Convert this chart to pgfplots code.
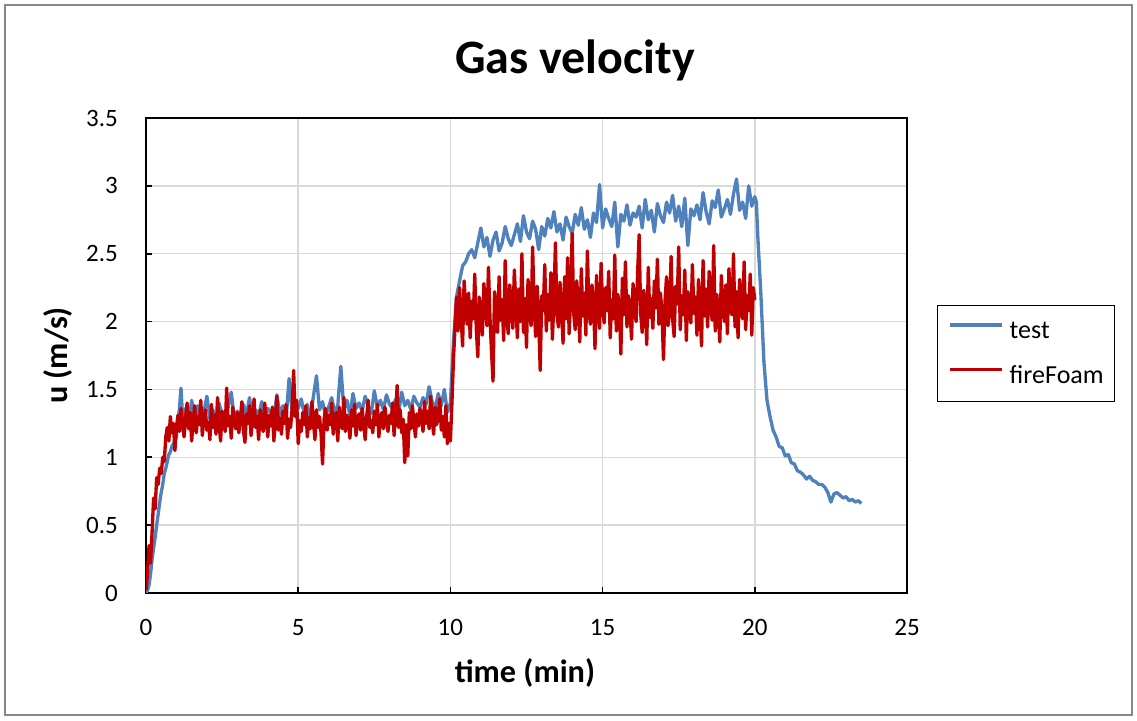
\documentclass[border=0pt]{standalone}
\usepackage{fontspec}
\setmainfont{Carlito}
\usepackage{pgfplots}
\pgfplotsset{compat=1.18}
\definecolor{testblue}{HTML}{4F81BD}
\definecolor{foamred}{HTML}{C00000}
\definecolor{gridgray}{HTML}{D9D9D9}
\definecolor{outergray}{HTML}{878787}
\begin{document}
\begin{tikzpicture}[x=1pt,y=1pt]
\useasboundingbox (0,0) rectangle (852.75,540);
\draw[color=outergray, line width=1.3pt] (3.75,3.75) rectangle (849.25,536.25);
\node[font=\bfseries\fontsize{36}{42}\selectfont, anchor=center] at (431.25,494.5) {Gas velocity};
\begin{axis}[
  at={(109.5pt,95.25pt)}, anchor=south west,
  scale only axis, width=570.75pt, height=356.25pt,
  xmin=0, xmax=25, ymin=0, ymax=3.5,
  xtick={0,5,10,15,20,25}, ytick={0,0.5,1,1.5,2,2.5,3,3.5},
  grid=major, grid style={color=gridgray, line width=1.1pt},
  axis line style={black, line width=1.5pt},
  tick pos=left, tick align=inside,
  major tick length=4.5pt, major tick style={black, line width=1.2pt},
  /pgf/number format/assume math mode=true,
  ticklabel style={font=\fontsize{18.75}{22}\selectfont},
  yticklabel style={anchor=east, inner sep=0pt, xshift=-21pt},
  xticklabel style={anchor=north, inner sep=0pt, yshift=-19.5pt},
  xlabel={time (min)}, ylabel={u (m/s)},
  label style={font=\bfseries\fontsize{24.2}{29}\selectfont},
  xlabel style={at={(axis description cs:0.498,-0.1684)}, anchor=center},
  ylabel style={at={(axis description cs:-0.1156,0.5)}, anchor=center},
  legend style={at={(1.0394,0.606)}, anchor=north west, draw=black, line width=1pt,
    font=\fontsize{19.5}{23}\selectfont, inner xsep=8.25pt, inner ysep=12pt,
    row sep=19pt, column sep=4.5pt, nodes={inner sep=0pt}},
  legend cell align=left,
  legend image code/.code={\draw[#1, line width=2.3pt] (0pt,4.5pt) -- (39pt,4.5pt);},
]
\addplot[testblue, line width=2.5pt, line join=round] coordinates {
(0,0)(0.05,0.02)(0.10,0.06)(0.15,0.14)(0.20,0.25)(0.25,0.33)(0.30,0.41)(0.35,0.50)(0.40,0.58)(0.45,0.67)(0.50,0.74)(0.55,0.80)(0.60,0.88)(0.65,0.92)(0.70,0.97)(0.75,1.02)(0.80,1.04)(0.85,1.08)(0.90,1.10)(0.95,1.12)(1.00,1.15)(1.05,1.28)(1.10,1.36)(1.15,1.51)
(1.2,1.30)(1.3,1.36)(1.4,1.24)(1.5,1.42)(1.6,1.29)(1.7,1.38)(1.8,1.26)(1.9,1.33)(2.0,1.45)
(2.1,1.28)(2.2,1.35)(2.3,1.22)(2.4,1.40)(2.5,1.31)(2.6,1.26)(2.7,1.37)(2.8,1.48)(2.9,1.29)(3.0,1.34)
(3.1,1.25)(3.2,1.39)(3.3,1.31)(3.4,1.44)(3.5,1.27)(3.6,1.35)(3.7,1.30)(3.8,1.41)(3.9,1.26)(4.0,1.36)
(4.1,1.33)(4.2,1.29)(4.3,1.46)(4.4,1.31)(4.5,1.38)(4.6,1.27)(4.7,1.58)(4.8,1.34)(4.9,1.40)(5.0,1.36)
(5.1,1.43)(5.2,1.32)(5.3,1.39)(5.4,1.28)(5.5,1.45)(5.6,1.60)(5.7,1.35)(5.8,1.41)(5.9,1.30)(6.0,1.37)
(6.1,1.44)(6.2,1.33)(6.3,1.38)(6.4,1.67)(6.5,1.35)(6.6,1.42)(6.7,1.31)(6.8,1.47)(6.9,1.36)(7.0,1.40)
(7.1,1.34)(7.2,1.45)(7.3,1.38)(7.4,1.32)(7.5,1.49)(7.6,1.37)(7.7,1.42)(7.8,1.35)(7.9,1.46)(8.0,1.39)
(8.1,1.36)(8.2,1.43)(8.3,1.33)(8.4,1.48)(8.5,1.38)(8.6,1.42)(8.7,1.35)(8.8,1.45)(8.9,1.40)(9.0,1.37)
(9.1,1.44)(9.2,1.39)(9.3,1.52)(9.4,1.41)(9.5,1.36)(9.6,1.47)(9.7,1.38)(9.8,1.50)(9.9,1.33)(10.0,1.40)
(10.1,1.85)(10.2,2.18)(10.3,2.30)(10.4,2.41)(10.5,2.44)(10.6,2.50)(10.7,2.53)(10.8,2.47)(10.9,2.58)(11.0,2.69)
(11.1,2.55)(11.2,2.62)(11.3,2.48)(11.4,2.60)(11.5,2.66)(11.6,2.52)(11.7,2.58)(11.8,2.70)(11.9,2.61)(12.0,2.56)
(12.1,2.64)(12.2,2.72)(12.3,2.59)(12.4,2.78)(12.5,2.66)(12.6,2.61)(12.7,2.74)(12.8,2.68)(12.9,2.53)(13.0,2.70)
(13.1,2.63)(13.2,2.76)(13.3,2.69)(13.4,2.81)(13.5,2.66)(13.6,2.72)(13.7,2.60)(13.8,2.77)(13.9,2.70)(14.0,2.65)
(14.1,2.79)(14.2,2.71)(14.3,2.84)(14.4,2.68)(14.5,2.75)(14.6,2.62)(14.7,2.80)(14.8,2.73)(14.9,3.01)(15.0,2.69)
(15.1,2.83)(15.2,2.76)(15.3,2.70)(15.4,2.88)(15.5,2.55)(15.6,2.79)(15.7,2.74)(15.8,2.86)(15.9,2.71)(16.0,2.80)
(16.1,2.77)(16.2,2.85)(16.3,2.69)(16.4,2.90)(16.5,2.75)(16.6,2.82)(16.7,2.66)(16.8,2.87)(16.9,2.78)(17.0,2.73)
(17.1,2.88)(17.2,2.80)(17.3,2.93)(17.4,2.74)(17.5,2.85)(17.6,2.70)(17.7,2.91)(17.8,2.56)(17.9,2.83)(18.0,2.78)
(18.1,2.86)(18.2,2.75)(18.3,2.95)(18.4,2.81)(18.5,2.72)(18.6,2.89)(18.7,2.84)(18.8,2.97)(18.9,2.77)(19.0,2.83)
(19.1,2.90)(19.2,2.79)(19.3,2.94)(19.4,3.05)(19.5,2.82)(19.6,2.88)(19.7,2.76)(19.8,3.00)(19.9,2.85)(20.0,2.92)
(20.05,2.88)(20.1,2.62)(20.2,2.20)(20.3,1.70)(20.4,1.42)(20.5,1.30)(20.6,1.20)(20.7,1.15)(20.8,1.08)(20.9,1.07)(21.0,1.01)
(21.1,1.02)(21.2,0.96)(21.3,0.95)(21.4,0.90)(21.5,0.89)(21.6,0.87)(21.7,0.84)(21.8,0.86)(21.9,0.83)(22.0,0.82)
(22.1,0.80)(22.2,0.80)(22.3,0.78)(22.4,0.74)(22.5,0.67)(22.6,0.73)(22.7,0.74)(22.8,0.72)(22.9,0.70)(23.0,0.71)
(23.1,0.68)(23.2,0.69)(23.3,0.67)(23.4,0.68)(23.5,0.66)
};
\addlegendentry{test}
\addplot[foamred, line width=2.5pt, line join=round] coordinates {
(0,0.02)(0.05,0.15)(0.10,0.35)(0.15,0.22)(0.20,0.45)(0.25,0.70)(0.30,0.62)(0.35,0.85)(0.40,0.80)(0.45,0.92)(0.50,0.88)(0.55,1.00)(0.60,0.97)(0.65,1.15)(0.70,1.22)(0.75,1.12)(0.80,1.30)(0.85,1.18)(0.90,1.25)(0.95,1.05)(1.00,1.22)
(1.05,1.31)(1.10,1.19)(1.15,1.36)(1.20,1.24)(1.25,1.15)(1.30,1.29)(1.35,1.40)(1.40,1.21)(1.45,1.33)(1.50,1.12)(1.55,1.27)(1.60,1.38)(1.65,1.18)(1.70,1.30)(1.75,1.24)(1.80,1.42)(1.85,1.16)(1.90,1.28)(1.95,1.35)(2.00,1.20)
(2.05,1.26)(2.10,1.13)(2.15,1.39)(2.20,1.22)(2.25,1.31)(2.30,1.17)(2.35,1.44)(2.40,1.25)(2.45,1.12)(2.50,1.34)(2.55,1.28)(2.60,1.19)(2.65,1.51)(2.70,1.23)(2.75,1.30)(2.80,1.14)(2.85,1.37)(2.90,1.26)(2.95,1.21)(3.00,1.33)
(3.05,1.18)(3.10,1.29)(3.15,1.41)(3.20,1.20)(3.25,1.11)(3.30,1.32)(3.35,1.25)(3.40,1.38)(3.45,1.16)(3.50,1.27)(3.55,1.43)(3.60,1.22)(3.65,1.30)(3.70,1.13)(3.75,1.35)(3.80,1.24)(3.85,1.19)(3.90,1.40)(3.95,1.28)(4.00,1.15)
(4.05,1.31)(4.10,1.23)(4.15,1.37)(4.20,1.12)(4.25,1.26)(4.30,1.45)(4.35,1.20)(4.40,1.29)(4.45,1.17)(4.50,1.34)(4.55,1.25)(4.60,1.39)(4.65,1.14)(4.70,1.28)(4.75,1.22)(4.80,1.36)(4.85,1.64)(4.90,1.30)(4.95,1.42)(5.00,1.10)
(5.05,1.27)(5.10,1.19)(5.15,1.33)(5.20,1.24)(5.25,1.38)(5.30,1.15)(5.35,1.29)(5.40,1.21)(5.45,1.41)(5.50,1.26)(5.55,1.13)(5.60,1.35)(5.65,1.22)(5.70,1.30)(5.75,1.18)(5.80,0.95)(5.85,1.28)(5.90,1.36)(5.95,1.20)(6.00,1.31)
(6.05,1.24)(6.10,1.40)(6.15,1.17)(6.20,1.29)(6.25,1.33)(6.30,1.12)(6.35,1.37)(6.40,1.25)(6.45,1.21)(6.50,1.44)(6.55,1.19)(6.60,1.31)(6.65,1.26)(6.70,1.14)(6.75,1.35)(6.80,1.23)(6.85,1.39)(6.90,1.16)(6.95,1.28)(7.00,1.32)
(7.05,1.20)(7.10,1.36)(7.15,1.25)(7.20,1.13)(7.25,1.30)(7.30,1.42)(7.35,1.22)(7.40,1.27)(7.45,1.18)(7.50,1.34)(7.55,1.24)(7.60,1.39)(7.65,1.15)(7.70,1.29)(7.75,1.33)(7.80,1.21)(7.85,1.37)(7.90,1.26)(7.95,1.19)(8.00,1.31)
(8.05,1.25)(8.10,1.40)(8.15,1.16)(8.20,1.30)(8.25,1.53)(8.30,1.22)(8.35,1.35)(8.40,1.18)(8.45,1.28)(8.50,0.96)(8.55,1.24)(8.60,1.01)(8.65,1.33)(8.70,1.21)(8.75,1.38)(8.80,1.27)(8.85,1.15)(8.90,1.32)(8.95,1.23)(9.00,1.36)
(9.05,1.29)(9.10,1.19)(9.15,1.41)(9.20,1.25)(9.25,1.34)(9.30,1.21)(9.35,1.45)(9.40,1.28)(9.45,1.17)(9.50,1.37)(9.55,1.24)(9.60,1.32)(9.65,1.43)(9.70,1.20)(9.75,1.30)(9.80,1.15)(9.85,1.38)(9.90,1.10)(9.95,1.25)(10.00,1.12)
(10.05,1.40)(10.10,1.72)(10.15,1.95)(10.20,2.18)
(10.25,1.93)(10.30,2.25)(10.35,2.05)(10.40,1.82)(10.45,2.30)(10.50,2.12)(10.55,1.98)(10.60,2.21)(10.65,1.88)(10.70,2.15)(10.75,2.02)(10.80,2.35)(10.85,1.95)(10.90,1.74)(10.95,2.18)(11.00,2.06)
(11.05,1.90)(11.10,2.28)(11.15,2.10)(11.20,1.97)(11.25,2.40)(11.30,2.03)(11.35,1.78)(11.40,1.56)(11.45,2.22)(11.50,2.08)(11.55,1.92)(11.60,2.33)(11.65,2.01)(11.70,2.16)(11.75,1.86)(11.80,2.45)(11.85,2.04)(11.90,1.91)(11.95,2.27)(12.00,2.11)
(12.05,1.95)(12.10,2.38)(12.15,2.13)(12.20,1.88)(12.25,2.24)(12.30,2.00)(12.35,2.50)(12.40,1.92)(12.45,2.17)(12.50,1.81)(12.55,2.31)(12.60,2.07)(12.65,1.97)(12.70,2.55)(12.75,2.12)(12.80,1.89)(12.85,2.26)(12.90,2.03)(12.95,1.64)(13.00,2.19)
(13.05,2.08)(13.10,2.42)(13.15,1.93)(13.20,2.20)(13.25,2.01)(13.30,2.36)(13.35,1.87)(13.40,2.14)(13.45,2.58)(13.50,2.05)(13.55,1.96)(13.60,2.29)(13.65,2.10)(13.70,1.84)(13.75,2.33)(13.80,2.02)(13.85,2.47)(13.90,1.91)(13.95,2.18)(14.00,2.65)
(14.05,2.06)(14.10,1.94)(14.15,2.30)(14.20,2.13)(14.25,1.85)(14.30,2.39)(14.35,2.04)(14.40,2.21)(14.45,1.90)(14.50,2.52)(14.55,2.09)(14.60,1.98)(14.65,2.27)(14.70,2.15)(14.75,1.80)(14.80,2.34)(14.85,2.07)(14.90,1.95)(14.95,2.43)(15.00,2.11)
(15.05,1.99)(15.10,2.25)(15.15,2.08)(15.20,2.37)(15.25,1.88)(15.30,2.16)(15.35,2.02)(15.40,2.49)(15.45,1.93)(15.50,2.20)(15.55,2.11)(15.60,1.76)(15.65,2.32)(15.70,2.05)(15.75,2.44)(15.80,1.96)(15.85,2.19)(15.90,2.09)(15.95,1.87)(16.00,2.28)
(16.05,2.12)(16.10,2.00)(16.15,2.36)(16.20,2.64)(16.25,2.06)(16.30,1.92)(16.35,2.23)(16.40,2.14)(16.45,1.83)(16.50,2.40)(16.55,2.03)(16.60,2.17)(16.65,1.95)(16.70,2.30)(16.75,2.10)(16.80,2.46)(16.85,1.98)(16.90,2.21)(16.95,2.07)(17.00,1.72)
(17.05,2.15)(17.10,2.33)(17.15,1.97)(17.20,2.08)(17.25,2.48)(17.30,2.02)(17.35,1.89)(17.40,2.26)(17.45,2.13)(17.50,2.55)(17.55,1.94)(17.60,2.19)(17.65,2.05)(17.70,2.38)(17.75,1.86)(17.80,2.22)(17.85,2.11)(17.90,1.99)(17.95,2.42)(18.00,2.06)
(18.05,2.18)(18.10,1.90)(18.15,2.31)(18.20,2.09)(18.25,1.82)(18.30,2.45)(18.35,2.04)(18.40,2.24)(18.45,1.96)(18.50,2.37)(18.55,2.12)(18.60,2.01)(18.65,2.56)(18.70,1.93)(18.75,2.20)(18.80,2.08)(18.85,1.85)(18.90,2.34)(18.95,2.14)(19.00,2.00)
(19.05,2.27)(19.10,1.91)(19.15,2.39)(19.20,2.10)(19.25,2.05)(19.30,2.50)(19.35,1.96)(19.40,2.22)(19.45,1.88)(19.50,2.31)(19.55,2.13)(19.60,2.02)(19.65,2.44)(19.70,1.94)(19.75,2.19)(19.80,2.08)(19.85,2.35)(19.90,1.90)(19.95,2.25)(20.00,2.16)
};
\addlegendentry{fireFoam}
\end{axis}
\end{tikzpicture}
\end{document}
